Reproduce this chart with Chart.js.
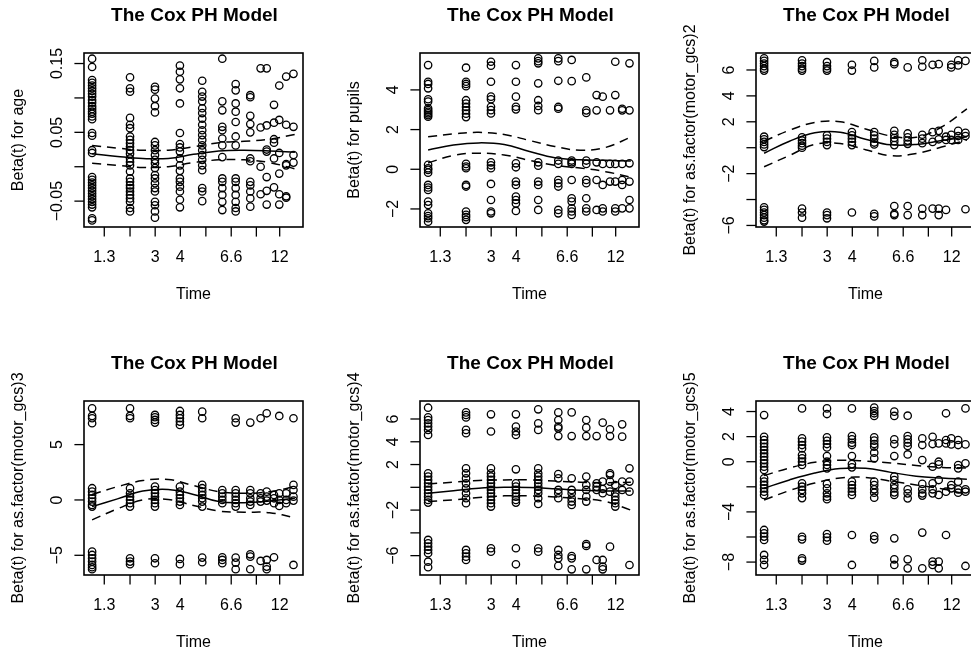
<!DOCTYPE html>
<html>
<head>
<meta charset="utf-8">
<script src="https://cdn.jsdelivr.net/npm/chart.js@4"></script>
<style>
  html, body { margin: 0; padding: 0; background: #fff; overflow: hidden; }
  #wrap { position: relative; width: 971px; height: 655px; overflow: hidden; }
  #wrap canvas { position: absolute; }
</style>
</head>
<body>
<div id="wrap"></div>
<script>
// event times on the km-transformed time axis (0 = first death, 1 = last)
const EVENT_X = [0, 0.187, 0.310, 0.433, 0.543, 0.642, 0.708, 0.780, 0.831, 0.861, 0.897, 0.923, 0.957, 0.993];

// x axis ticks (R drops the labels that would overlap)
const X_TICK_POS = [0.06, 0.187, 0.311, 0.435, 0.561, 0.686, 0.81, 0.925];
const X_TICK_LABELS = ['1.3', '', '3', '4', '', '6.6', '', '12'];

// points where the smooth and its confidence band were read
const LINE_X = [0, 0.125, 0.25, 0.375, 0.5, 0.625, 0.75, 0.875, 1];

// scaled Schoenfeld residuals, one list per event-time column
const AGE_Y = [
  [0.157, 0.145, 0.126, 0.122, 0.118, 0.114, 0.110, 0.106, 0.102, 0.097, 0.093, 0.088, 0.084, 0.080, 0.077, 0.073, 0.069, 0.049, 0.045, 0.024, 0.020, -0.015, -0.019, -0.023, -0.027, -0.031, -0.035, -0.039, -0.043, -0.047, -0.051, -0.055, -0.059, -0.075, -0.078],
  [0.130, 0.114, 0.109, 0.071, 0.061, 0.056, 0.044, 0.039, 0.034, 0.029, 0.024, 0.019, 0.012, 0.007, 0.002, -0.007, -0.017, -0.022, -0.027, -0.031, -0.036, -0.041, -0.046, -0.051, -0.060, -0.065],
  [0.116, 0.112, 0.099, 0.088, 0.079, 0.036, 0.031, 0.024, 0.017, 0.010, 0.005, -0.002, -0.012, -0.017, -0.024, -0.031, -0.036, -0.051, -0.056, -0.065, -0.074],
  [0.147, 0.138, 0.127, 0.114, 0.092, 0.049, 0.033, 0.028, 0.022, 0.012, 0.002, -0.006, -0.017, -0.022, -0.029, -0.036, -0.048, -0.059],
  [0.125, 0.109, 0.102, 0.095, 0.085, 0.078, 0.070, 0.061, 0.053, 0.046, 0.039, 0.031, 0.024, 0.017, 0.010, 0.002, -0.005, -0.031, -0.036, -0.050],
  [0.157, 0.095, 0.082, 0.058, 0.053, 0.041, 0.031, 0.014, -0.017, -0.022, -0.031, -0.041, -0.051, -0.063],
  [0.120, 0.111, 0.092, 0.080, 0.065, 0.044, 0.031, -0.017, -0.022, -0.031, -0.041, -0.051, -0.060, -0.065],
  [0.104, 0.101, 0.074, 0.062, 0.050, 0.012, 0.008, -0.022, -0.027, -0.036, -0.046, -0.058],
  [0.143, 0.057, 0.000, -0.040],
  [0.143, 0.060, 0.025, 0.022, -0.015, -0.035, -0.055],
  [0.090, 0.064, 0.040, 0.035, 0.012, -0.030],
  [0.118, 0.068, 0.020, -0.010, -0.040, -0.055],
  [0.131, 0.061, 0.004, 0.002, -0.043, -0.045],
  [0.135, 0.058, 0.017, 0.006]
];
const AGE_FIT = [0.019, 0.015, 0.012, 0.012, 0.018, 0.023, 0.024, 0.023, 0.021];
const AGE_UP = [0.031, 0.027, 0.024, 0.024, 0.029, 0.035, 0.037, 0.040, 0.047];
const AGE_LO = [0.005, 0.002, -0.001, 0.000, 0.006, 0.010, 0.010, 0.006, -0.003];

const PUPILS_Y = [
  [5.25, 4.41, 4.30, 4.08, 3.53, 3.41, 3.07, 2.98, 2.90, 2.82, 2.73, 2.65, 0.22, 0.05, -0.03, -0.17, -0.79, -0.92, -1.04, -1.63, -1.80, -2.22, -2.36, -2.47, -2.64],
  [5.12, 4.41, 4.30, 4.19, 3.48, 3.31, 3.14, 2.97, 2.80, 2.63, 0.27, 0.14, 0.05, -0.79, -0.87, -2.13, -2.30, -2.41, -2.55],
  [5.42, 5.22, 4.41, 3.66, 3.53, 3.15, 2.98, 2.81, 0.35, 0.20, 0.05, -0.74, -1.55, -2.13, -2.22],
  [5.25, 4.41, 3.66, 3.15, 3.02, 0.30, 0.10, -0.62, -0.79, -1.38, -1.55, -1.72, -2.10],
  [5.59, 5.45, 5.34, 4.33, 3.48, 3.19, 2.98, 0.35, 0.18, -0.62, -0.79, -1.55, -2.05],
  [5.59, 5.45, 4.46, 3.14, 3.05, 0.44, 0.27, -0.54, -0.70, -0.87, -2.05, -2.22],
  [5.51, 4.44, 0.44, 0.35, 0.27, -0.54, -1.46, -1.63, -1.97, -2.13, -2.30],
  [4.63, 2.97, 2.84, 0.44, 0.27, -0.54, -0.70, -1.46, -1.97, -2.13],
  [3.74, 2.97, 0.35, -0.54, -2.05],
  [3.66, 0.27, -0.79, -1.97, -2.13],
  [2.97, 0.27, -0.62],
  [5.42, 3.74, 0.27, -0.62, -1.97, -2.13],
  [3.05, 2.97, 0.27, -0.54, -0.79, -1.97],
  [5.34, 2.97, 0.30, -0.62, -1.55, -1.97]
];
const PUPILS_FIT = [0.97, 1.22, 1.33, 1.25, 0.90, 0.58, 0.48, 0.45, 0.42];
const PUPILS_UP = [1.64, 1.78, 1.86, 1.75, 1.45, 1.15, 0.96, 1.10, 1.62];
const PUPILS_LO = [0.32, 0.70, 0.81, 0.72, 0.45, 0.20, 0.06, -0.12, -0.40];

const GCS2_Y = [
  [6.9, 6.7, 6.5, 6.3, 6.1, 5.95, 0.85, 0.65, 0.45, 0.25, 0.05, -4.6, -4.8, -5.0, -5.2, -5.4, -5.6, -5.7],
  [6.75, 6.5, 6.3, 6.1, 5.95, 0.8, 0.55, 0.35, 0.15, 0.0, -4.7, -5.0, -5.4],
  [6.6, 6.3, 6.1, 5.95, 0.95, 0.7, 0.45, 0.2, -5.0, -5.2, -5.45],
  [6.4, 5.95, 1.2, 0.95, 0.7, 0.45, 0.2, -5.0],
  [6.7, 6.2, 1.2, 0.95, 0.7, 0.4, 0.25, -5.1, -5.3],
  [6.6, 6.45, 1.3, 1.0, 0.75, 0.5, 0.2, -4.5, -5.1, -5.2],
  [6.2, 1.1, 0.8, 0.55, 0.3, -4.5, -5.2],
  [6.75, 6.25, 1.0, 0.7, 0.35, -4.7, -5.2],
  [6.4, 1.2, 0.45, -4.7],
  [6.45, 1.3, 0.65, -4.7, -5.2],
  [0.85, 0.6, -4.8],
  [6.4, 6.2, 1.0, 0.6],
  [6.75, 6.35, 1.3, 0.9, 0.6],
  [6.7, 1.15, 0.9, -4.75]
];
const GCS2_FIT = [-0.43, 0.5, 1.15, 1.2, 0.65, 0.22, 0.25, 0.55, 0.85];
const GCS2_UP = [0.5, 1.35, 1.95, 2.0, 1.45, 0.9, 0.8, 1.6, 3.0];
const GCS2_LO = [-1.47, -0.6, 0.25, 0.32, -0.15, -0.62, -0.45, 0.05, 0.6];

const GCS3_Y = [
  [8.28, 7.59, 7.38, 6.93, 1.06, 0.75, 0.45, 0.15, -0.15, -0.45, -0.60, -4.67, -4.97, -5.27, -5.57, -5.87, -6.08, -6.26],
  [8.28, 7.59, 7.38, 1.06, 0.6, 0.3, 0.0, -0.3, -0.6, -5.27, -5.57, -5.8],
  [7.68, 7.47, 7.23, 6.99, 1.21, 0.9, 0.6, 0.3, 0.0, -0.3, -0.6, -5.27, -5.72],
  [8.04, 7.68, 7.38, 7.08, 6.78, 1.21, 0.75, 0.45, 0.15, -0.15, -0.45, -5.33, -5.8],
  [7.98, 7.38, 1.36, 1.06, 0.75, 0.45, 0.15, -0.15, -0.6, -5.21, -5.63],
  [0.9, 0.6, 0.3, 0.0, -0.3, -5.18, -5.42, -5.72],
  [7.38, 6.99, 0.9, 0.6, 0.3, 0.0, -0.3, -0.6, -5.21, -5.66, -6.26],
  [6.99, 0.9, 0.6, 0.15, -0.15, -0.45, -4.91, -5.12, -6.26],
  [7.38, 0.6, 0.15, -0.15, -5.51],
  [7.83, 0.75, 0.3, -0.06, -5.42, -6.02, -6.26],
  [0.45, 0.15, -0.3, -5.18],
  [7.59, 0.6, 0.0, -0.54],
  [0.6, 0.0, -0.3],
  [7.38, 1.36, 0.9, 0.3, -0.06, -5.87]
];
const GCS3_FIT = [-0.6, 0.1, 0.8, 0.95, 0.5, -0.15, -0.25, -0.1, 0.15];
const GCS3_UP = [0.5, 1.2, 1.75, 1.85, 1.3, 0.75, 0.6, 0.75, 1.2];
const GCS3_LO = [-1.8, -0.8, 0.0, 0.05, -0.5, -1.0, -1.1, -1.15, -1.6];

const GCS4_Y = [
  [6.99, 6.14, 5.91, 5.62, 5.33, 5.04, 4.60, 1.23, 0.94, 0.65, 0.35, 0.06, -0.23, -0.52, -0.82, -1.11, -1.34, -4.62, -4.92, -5.21, -5.50, -5.79, -6.53, -7.02],
  [6.58, 6.35, 6.14, 5.04, 4.75, 1.67, 1.23, 0.79, 0.35, -0.09, -0.52, -0.96, -1.40, -5.50, -5.79, -6.09, -6.38],
  [6.41, 4.90, 1.67, 1.23, 0.94, 0.65, 0.35, 0.06, -0.23, -0.52, -0.82, -1.11, -1.40, -1.69, -5.35, -5.65],
  [6.41, 5.33, 4.90, 4.60, 1.58, 0.35, 0.06, -0.23, -0.52, -0.82, -1.11, -1.34, -5.35, -6.76],
  [6.85, 5.62, 5.04, 1.67, 1.23, 0.94, 0.65, 0.35, 0.06, -0.23, -0.52, -0.96, -1.46, -5.35, -5.65],
  [6.58, 5.91, 5.33, 5.18, 4.50, 1.17, 0.79, -0.23, -0.52, -0.96, -5.50, -5.94, -6.24, -6.90],
  [6.58, 4.50, 0.79, -0.23, -0.52, -0.96, -1.25, -1.55, -6.03, -6.24, -7.20],
  [5.91, 5.24, 4.50, 0.94, 0.20, -0.23, -0.82, -1.25, -4.98, -5.15, -7.20],
  [4.50, 0.35, 0.06, -0.23, -6.38],
  [5.68, 0.50, -0.15, -0.52, -6.38, -6.97, -7.20],
  [5.10, 4.50, 1.23, 1.08, 0.50, -0.38, -5.21],
  [0.20, -0.52, -0.82, -1.11, -1.40, -1.69],
  [5.53, 4.45, 0.50, -0.23],
  [1.67, 0.50, -0.38, -6.82]
];
const GCS4_FIT = [-0.52, -0.3, -0.08, 0.0, -0.02, -0.12, -0.25, -0.33, -0.32];
const GCS4_UP = [0.3, 0.45, 0.6, 0.65, 0.65, 0.55, 0.45, 0.4, 0.45];
const GCS4_LO = [-1.25, -1.1, -0.9, -0.75, -0.75, -0.85, -1.0, -1.25, -2.0];

const GCS5_Y = [
  [3.72, 1.99, 1.72, 1.46, 1.19, 0.93, 0.66, 0.40, 0.13, -0.13, -0.40, -0.66, -1.32, -1.59, -1.85, -2.12, -2.39, -2.65, -5.44, -5.71, -5.97, -6.24, -7.43, -7.83, -8.23],
  [4.25, 1.86, 1.60, 1.33, 1.06, 0.53, 0.27, 0.0, -0.26, -1.72, -1.99, -2.25, -2.52, -2.90, -5.98, -6.19, -7.70, -7.88],
  [4.25, 3.80, 1.94, 1.67, 1.41, 1.14, 0.45, 0.0, -0.26, -0.53, -1.77, -2.12, -2.52, -2.79, -2.99, -5.76, -6.03, -6.30],
  [4.25, 2.05, 1.78, 1.51, 1.33, 0.45, -0.19, -0.45, -1.59, -1.86, -2.12, -2.39, -2.65, -5.84, -8.23],
  [4.31, 4.04, 3.86, 3.65, 1.94, 1.68, 1.41, 1.20, 0.72, 0.27, -1.59, -1.86, -2.20, -2.47, -2.87, -5.92, -6.19],
  [3.99, 3.65, 1.78, 1.41, 0.45, -1.19, -1.46, -1.86, -2.12, -2.44, -2.65, -6.11, -7.78, -8.23],
  [3.67, 2.05, 1.78, 1.51, 1.25, 0.58, -2.20, -2.52, -2.92, -7.78, -8.50],
  [1.86, 1.33, 0.13, -1.77, -2.20, -2.52, -2.70, -5.65, -8.50],
  [1.99, 1.41, -0.40, -1.72, -2.20, -2.52, -7.96, -8.23],
  [1.46, 0.0, -0.21, -1.46, -2.65, -7.96, -8.50],
  [3.86, 1.73, 1.46, -2.39, -5.84],
  [1.86, 1.38, -1.86, -2.12],
  [1.73, 1.33, -0.26, -0.53, -1.59, -2.20, -2.47],
  [4.25, 1.38, -0.13, -2.20, -2.39, -8.31]
];
const GCS5_FIT = [-2.12, -1.45, -0.9, -0.55, -0.52, -0.85, -1.15, -1.3, -1.4];
const GCS5_UP = [-1.1, -0.5, -0.05, 0.12, 0.05, -0.1, -0.3, -0.45, -0.5];
const GCS5_LO = [-3.05, -2.3, -1.7, -1.3, -1.25, -1.55, -1.85, -2.15, -2.6];

const MINUS = '\u2212';

const panels = [
  { ylab: 'Beta(t) for age', pts: AGE_Y, fit: AGE_FIT, up: AGE_UP, lo: AGE_LO,
    ymin: -0.0876, ymax: 0.1653, yTicks: [-0.05, 0, 0.05, 0.10, 0.15], yLabels: [MINUS + '0.05', '', '0.05', '', '0.15'] },
  { ylab: 'Beta(t) for pupils', pts: PUPILS_Y, fit: PUPILS_FIT, up: PUPILS_UP, lo: PUPILS_LO,
    ymin: -2.91, ymax: 5.86, yTicks: [-2, 0, 2, 4], yLabels: [MINUS + '2', '0', '2', '4'] },
  { ylab: 'Beta(t) for as.factor(motor_gcs)2', pts: GCS2_Y, fit: GCS2_FIT, up: GCS2_UP, lo: GCS2_LO,
    ymin: -6.12, ymax: 7.31, yTicks: [-6, -4, -2, 0, 2, 4, 6], yLabels: [MINUS + '6', '', MINUS + '2', '', '2', '4', '6'] },
  { ylab: 'Beta(t) for as.factor(motor_gcs)3', pts: GCS3_Y, fit: GCS3_FIT, up: GCS3_UP, lo: GCS3_LO,
    ymin: -6.78, ymax: 8.94, yTicks: [-5, 0, 5], yLabels: [MINUS + '5', '0', '5'] },
  { ylab: 'Beta(t) for as.factor(motor_gcs)4', pts: GCS4_Y, fit: GCS4_FIT, up: GCS4_UP, lo: GCS4_LO,
    ymin: -7.70, ymax: 7.58, yTicks: [-6, -4, -2, 0, 2, 4, 6], yLabels: [MINUS + '6', '', MINUS + '2', '', '2', '4', '6'] },
  { ylab: 'Beta(t) for as.factor(motor_gcs)5', pts: GCS5_Y, fit: GCS5_FIT, up: GCS5_UP, lo: GCS5_LO,
    ymin: -9.03, ymax: 4.84, yTicks: [-8, -6, -4, -2, 0, 2, 4], yLabels: [MINUS + '8', '', MINUS + '4', '', '0', '2', '4'] }
];

const FONT = '"Liberation Sans", Arial, Helvetica, sans-serif';

// R-style box, axes and labels, placed with the chart's own scales
const rAxes = {
  id: 'rAxes',
  afterDraw(chart, args, o) {
    const { ctx, chartArea: a } = chart;
    const xs = chart.scales.x, ys = chart.scales.y;
    const tick = 9.6;
    const seg = (x1, y1, x2, y2) => { ctx.beginPath(); ctx.moveTo(x1, y1); ctx.lineTo(x2, y2); ctx.stroke(); };
    ctx.save();
    ctx.strokeStyle = '#000';
    ctx.fillStyle = '#000';
    ctx.lineWidth = 1.6;
    ctx.strokeRect(a.left, a.top, a.right - a.left, a.bottom - a.top);
    ctx.lineWidth = 1.3;
    ctx.font = '16px ' + FONT;
    ctx.textAlign = 'center';
    ctx.textBaseline = 'alphabetic';

    X_TICK_POS.forEach((v, i) => {
      const px = xs.getPixelForValue(v);
      seg(px, a.bottom, px, a.bottom + tick);
      if (X_TICK_LABELS[i]) ctx.fillText(X_TICK_LABELS[i], px, a.bottom + 35);
    });

    o.yTicks.forEach((v, i) => {
      const py = ys.getPixelForValue(v);
      seg(a.left - tick, py, a.left, py);
      if (o.yLabels[i]) {
        ctx.save();
        ctx.translate(a.left - 22, py);
        ctx.rotate(-Math.PI / 2);
        ctx.fillText(o.yLabels[i], 0, 0);
        ctx.restore();
      }
    });

    const cx = (a.left + a.right) / 2, cy = (a.top + a.bottom) / 2;
    ctx.fillText('Time', cx, a.bottom + 72);

    ctx.save();
    ctx.translate(a.left - 61, cy);
    ctx.rotate(-Math.PI / 2);
    ctx.fillText(o.ylab, 0, 0);
    ctx.restore();

    ctx.font = 'bold 19px ' + FONT;
    ctx.fillText('The Cox PH Model', cx + 1, a.top - 32);
    ctx.restore();
  }
};

const wrap = document.getElementById('wrap');

panels.forEach((p, k) => {
  const canvas = document.createElement('canvas');
  canvas.width = 336;
  canvas.height = 348;
  canvas.style.left = (k % 3) * 336 + 'px';
  canvas.style.top = Math.floor(k / 3) * 348 + 'px';
  wrap.appendChild(canvas);

  const points = [];
  p.pts.forEach((col, i) => col.forEach(v => points.push({ x: EVENT_X[i], y: v })));
  const curve = arr => arr.map((v, i) => ({ x: LINE_X[i], y: v }));
  const lineStyle = {
    showLine: true, borderColor: '#000', borderWidth: 1.5, pointRadius: 0,
    tension: 0.4, fill: false
  };

  new Chart(canvas, {
    type: 'scatter',
    data: {
      datasets: [
        { data: points, pointStyle: 'circle', pointRadius: 3.7, pointBorderWidth: 1.3,
          pointBorderColor: '#000', pointBackgroundColor: 'rgba(0,0,0,0)' },
        Object.assign({ data: curve(p.fit) }, lineStyle),
        Object.assign({ data: curve(p.up), borderDash: [9, 6] }, lineStyle),
        Object.assign({ data: curve(p.lo), borderDash: [9, 6] }, lineStyle)
      ]
    },
    options: {
      responsive: false,
      animation: false,
      devicePixelRatio: 1,
      events: [],
      layout: { padding: { left: 84, right: 33, top: 53, bottom: 121 } },
      scales: {
        x: { type: 'linear', min: -0.04, max: 1.04, display: false },
        y: { type: 'linear', min: p.ymin, max: p.ymax, display: false }
      },
      plugins: {
        legend: { display: false },
        tooltip: { enabled: false },
        rAxes: { ylab: p.ylab, yTicks: p.yTicks, yLabels: p.yLabels }
      }
    },
    plugins: [rAxes]
  });
});
</script>
</body>
</html>
